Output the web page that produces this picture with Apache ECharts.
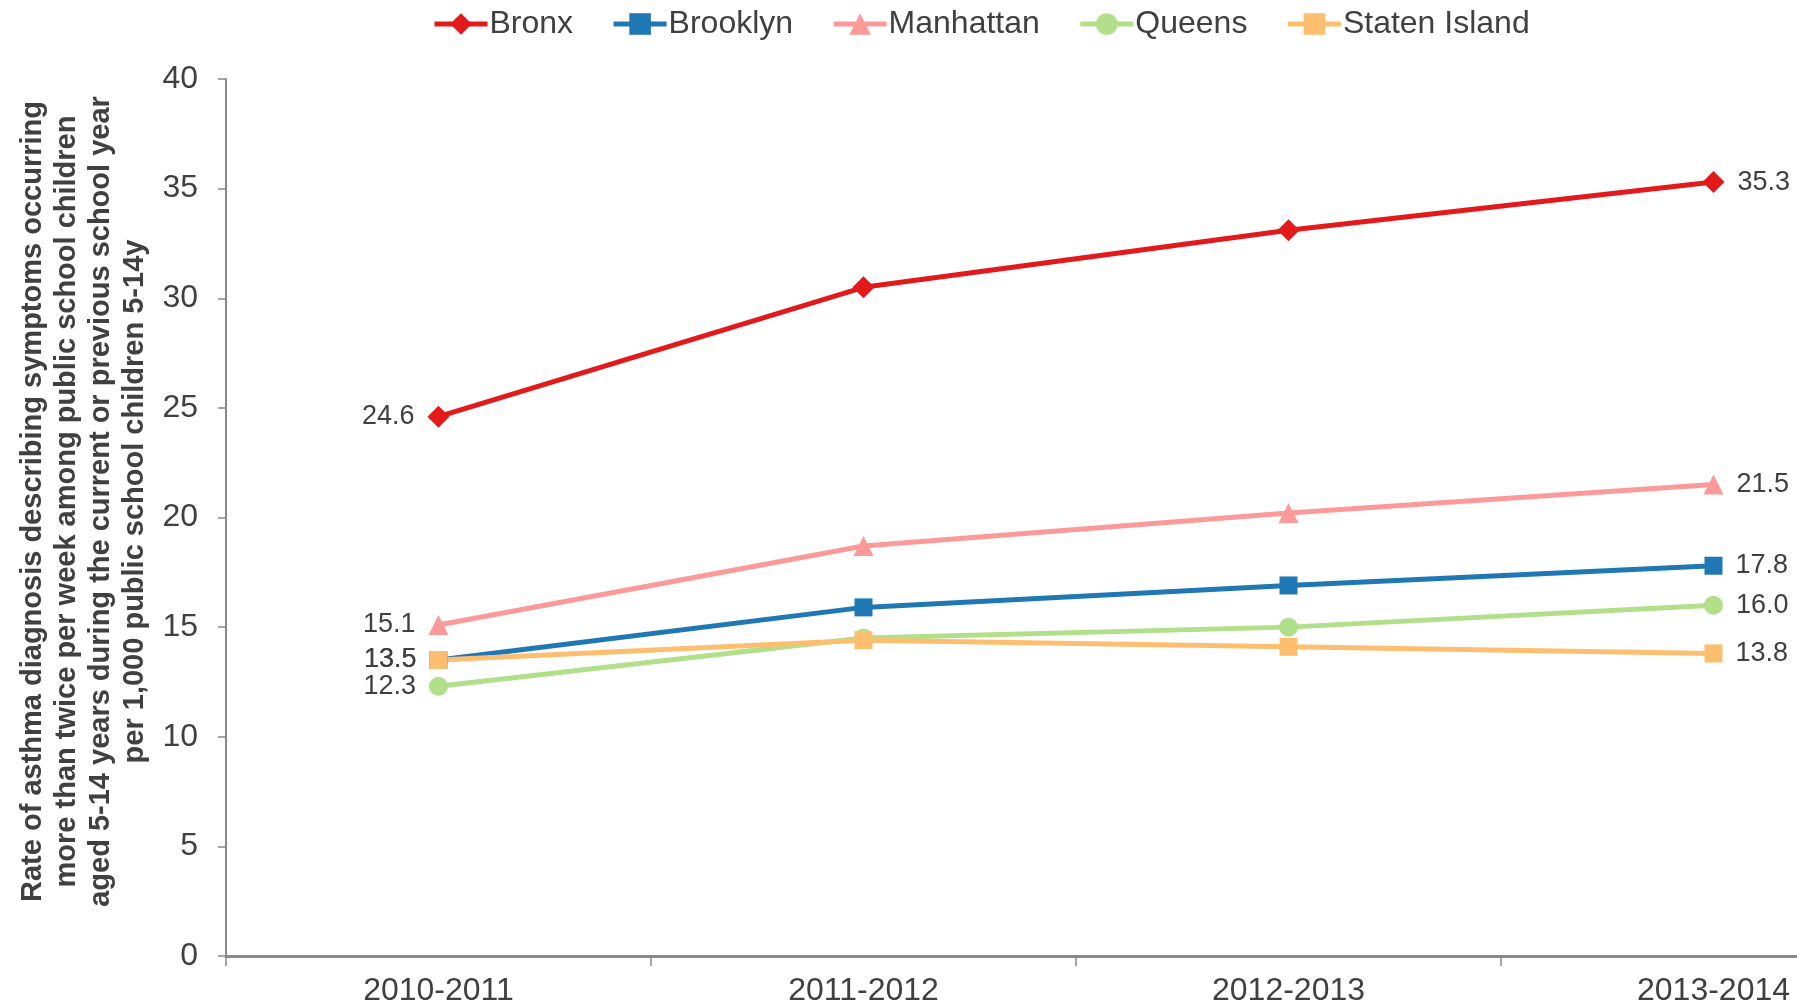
<!DOCTYPE html>
<html>
<head>
<meta charset="utf-8">
<script src="https://cdn.jsdelivr.net/npm/echarts@6/dist/echarts.min.js"></script>
<style>
  html, body { margin: 0; padding: 0; background: #fff; }
  #main { width: 1797px; height: 1007px; }
</style>
</head>
<body>
<div id="main"></div>
<script>
// school years on the x axis
var years = ['2010-2011', '2011-2012', '2012-2013', '2013-2014'];

// rate per 1,000 public school children 5-14y
var bronx = [24.6, 30.5, 33.1, 35.3];
var brooklyn = [13.5, 15.9, 16.9, 17.8];
var manhattan = [15.1, 18.7, 20.2, 21.5];
var queens = [12.3, 14.5, 15.0, 16.0];
var statenIsland = [13.5, 14.4, 14.1, 13.8];

var yTitle = 'Rate of asthma diagnosis describing symptoms occurring\n' +
    'more than twice per week among public school children\n' +
    'aged 5-14 years during the current or previous school year\n' +
    'per 1,000 public school children 5-14y';

var textColor = '#404040';
var axisColor = '#898989';

var myChart = echarts.init(document.getElementById('main'));

// only first and last points get a value label
function makeSeries(name, data, color, symbol, size) {
    var last = data.length - 1;
    return {
        name: name,
        type: 'line',
        data: data.map(function (v, i) {
            var item = {value: v};
            if (i === 0 || i === last) {
                item.label = {
                    show: true,
                    position: i === 0 ? 'left' : 'right',
                    distance: 13,
                    formatter: function (p) { return p.value.toFixed(1); }
                };
            }
            return item;
        }),
        symbol: symbol,
        symbolSize: size,
        lineStyle: {color: color, width: 5},
        itemStyle: {color: color},
        label: {
            show: false,
            color: textColor,
            fontSize: 27,
            fontFamily: 'Liberation Sans'
        },
        emphasis: {disabled: true},
        animation: false
    };
}

var option = {
    backgroundColor: '#fff',
    textStyle: {fontFamily: 'Liberation Sans'},
    legend: {
        left: 427,
        top: 3,
        itemWidth: 53,
        itemHeight: 27,
        itemGap: 38,
        lineStyle: {width: 5},
        textStyle: {fontSize: 32, color: textColor, fontFamily: 'Liberation Sans', padding: [0, 0, 0, -3]},
        data: ['Bronx', 'Brooklyn', 'Manhattan', 'Queens', 'Staten Island']
    },
    grid: {
        left: 226,
        top: 79,
        bottom: 51,
        right: -129,
        containLabel: false,
        outerBoundsMode: 'none'
    },
    xAxis: {
        type: 'category',
        data: years,
        boundaryGap: true,
        axisLine: {lineStyle: {color: axisColor, width: 3}},
        axisTick: {show: true, length: 10, lineStyle: {color: axisColor, width: 1.5}},
        axisLabel: {color: textColor, fontSize: 32, margin: 19, fontFamily: 'Liberation Sans'},
        splitLine: {show: false}
    },
    yAxis: {
        type: 'value',
        min: 0,
        max: 40,
        interval: 5,
        name: yTitle,
        nameLocation: 'middle',
        nameGap: 74,
        nameTextStyle: {
            fontSize: 29,
            fontWeight: 'bold',
            color: textColor,
            lineHeight: 34,
            align: 'center',
            padding: [0, 0, 0, 32],
            fontFamily: 'Liberation Sans'
        },
        axisLine: {show: true, lineStyle: {color: axisColor, width: 2}},
        axisTick: {show: true, length: 8, lineStyle: {color: axisColor, width: 1.5}},
        axisLabel: {color: textColor, fontSize: 32, margin: 28, fontFamily: 'Liberation Sans'},
        splitLine: {show: false}
    },
    series: [
        makeSeries('Bronx', bronx, '#e31a1c', 'diamond', 22),
        makeSeries('Brooklyn', brooklyn, '#1f78b4', 'rect', 18),
        makeSeries('Manhattan', manhattan, '#fb9a99', 'triangle', 20),
        makeSeries('Queens', queens, '#b2df8a', 'circle', 19),
        makeSeries('Staten Island', statenIsland, '#fdbf6f', 'rect', 18)
    ]
};

myChart.setOption(option);
</script>
</body>
</html>
